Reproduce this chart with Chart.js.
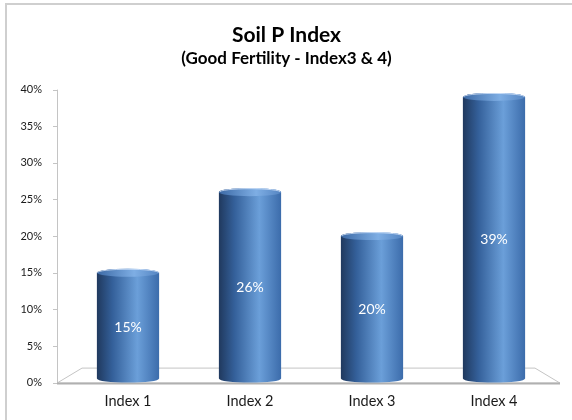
<!DOCTYPE html>
<html>
<head>
<meta charset="utf-8">
<script src="https://cdn.jsdelivr.net/npm/chart.js@4"></script>
<style>
  body { margin: 0; background: #fff; }
  #wrap { position: relative; width: 572px; height: 420px; overflow: hidden; }
  #frame { position: absolute; left: 5px; top: 3px; right: 0; bottom: 0; border-top: 2px solid #cfcfcf; border-left: 2px solid #cfcfcf; }
  canvas { position: absolute; left: 0; top: 0; }
</style>
</head>
<body>
<div id="wrap">
  <div id="frame"></div>
  <canvas id="chart" width="572" height="420"></canvas>
</div>
<script>
const categories = ['Index 1', 'Index 2', 'Index 3', 'Index 4'];
const values = [15, 26, 20, 39];
const valueLabels = ['15%', '26%', '20%', '39%'];
const titleText = 'Soil P Index';
const subtitleText = '(Good Fertility - Index3 & 4)';

// floor, y axis line and ticks (3D look)
const floor = {
    id: 'floor',
    beforeDatasetsDraw(chart) {
        const ctx = chart.ctx;
        const {left, right, top, bottom} = chart.chartArea;
        const ax = left - 10;
        ctx.save();
        ctx.strokeStyle = '#c4c4c4';
        ctx.lineWidth = 1;
        ctx.beginPath();
        ctx.moveTo(ax + 0.5, top);
        ctx.lineTo(ax + 0.5, bottom);
        chart.scales.y.ticks.forEach(t => {
            const py = Math.round(chart.scales.y.getPixelForValue(t.value)) + 0.5;
            ctx.moveTo(ax - 4, py);
            ctx.lineTo(ax + 0.5, py);
        });
        ctx.stroke();
        ctx.beginPath();
        ctx.moveTo(ax, bottom + 0.5);
        ctx.lineTo(ax + 25, bottom - 14.5);
        ctx.lineTo(right - 20, bottom - 14.5);
        ctx.lineTo(right + 5, bottom + 0.5);
        ctx.closePath();
        ctx.stroke();
        ctx.strokeStyle = '#b0b0b0';
        ctx.lineWidth = 2;
        ctx.beginPath();
        ctx.moveTo(ax, bottom + 1);
        ctx.lineTo(right + 5, bottom + 1);
        ctx.stroke();
        ctx.restore();
    }
};

// draw each bar as a shaded cylinder over the library's bar rectangle
const cylinders = {
    id: 'cylinders',
    afterDatasetsDraw(chart) {
        const ctx = chart.ctx;
        const meta = chart.getDatasetMeta(0);
        meta.data.forEach((bar, i) => {
            const {x, y, base, width} = bar.getProps(['x', 'y', 'base', 'width'], true);
            const l = x - width / 2, r = x + width / 2, ry = 4;
            ctx.save();
            const g = ctx.createLinearGradient(l, 0, r, 0);
            g.addColorStop(0, '#20395e');
            g.addColorStop(0.25, '#34609a');
            g.addColorStop(0.65, '#6b9fd9');
            g.addColorStop(1, '#3c6cab');
            ctx.fillStyle = g;
            ctx.beginPath();
            ctx.moveTo(l, y);
            ctx.lineTo(l, base - ry);
            ctx.ellipse(x, base - ry, width / 2, ry, 0, Math.PI, 0, true);
            ctx.lineTo(r, y);
            ctx.ellipse(x, y, width / 2, ry, 0, 0, Math.PI, true);
            ctx.closePath();
            ctx.fill();
            const g2 = ctx.createLinearGradient(l, 0, r, 0);
            g2.addColorStop(0, '#3d6aa6');
            g2.addColorStop(0.6, '#7eaee4');
            g2.addColorStop(1, '#5585c2');
            ctx.fillStyle = g2;
            ctx.beginPath();
            ctx.ellipse(x, y, width / 2, ry, 0, 0, Math.PI * 2);
            ctx.fill();
            ctx.strokeStyle = 'rgba(230,240,255,0.7)';
            ctx.lineWidth = 1;
            ctx.beginPath();
            ctx.ellipse(x, y, width / 2 - 0.5, ry - 0.5, 0, Math.PI, Math.PI * 2);
            ctx.stroke();
            ctx.fillStyle = '#ffffff';
            ctx.font = '14px Lato';
            ctx.textAlign = 'center';
            ctx.textBaseline = 'middle';
            ctx.fillText(valueLabels[i], x, (y + base) / 2);
            ctx.restore();
        });
    }
};

new Chart(document.getElementById('chart'), {
    type: 'bar',
    data: {
        labels: categories,
        datasets: [{
            data: values,
            backgroundColor: 'rgba(0,0,0,0)',
            barPercentage: 0.6,
            categoryPercentage: 0.85
        }]
    },
    options: {
        responsive: false,
        animation: false,
        layout: {
            padding: {top: 23, right: 8, bottom: 0, left: 9}
        },
        plugins: {
            legend: {display: false},
            tooltip: {enabled: false},
            title: {
                display: true,
                text: titleText,
                color: '#000',
                font: {family: 'Lato', size: 21, weight: 'bold'},
                padding: {top: 0, bottom: 0}
            },
            subtitle: {
                display: true,
                text: subtitleText,
                color: '#000',
                font: {family: 'Lato', size: 17, weight: 'bold'},
                padding: {top: 0, bottom: 21}
            }
        },
        scales: {
            x: {
                grid: {display: false, drawTicks: false},
                border: {display: false},
                ticks: {
                    color: '#1a1a1a',
                    font: {family: 'Lato', size: 14.5},
                    padding: 10
                }
            },
            y: {
                min: 0,
                max: 40,
                grid: {display: false, drawTicks: false},
                border: {display: false},
                afterFit: scale => { scale.width = 58; },
                ticks: {
                    stepSize: 5,
                    color: '#1a1a1a',
                    font: {family: 'Lato', size: 11},
                    padding: 25,
                    callback: v => v + '%'
                }
            },
            // empty right axis, only keeps the plot clear of the right edge
            y2: {
                position: 'right',
                grid: {display: false, drawTicks: false},
                border: {display: false},
                ticks: {display: false},
                afterFit: scale => { scale.width = 9; }
            }
        }
    },
    plugins: [floor, cylinders]
});
</script>
</body>
</html>
